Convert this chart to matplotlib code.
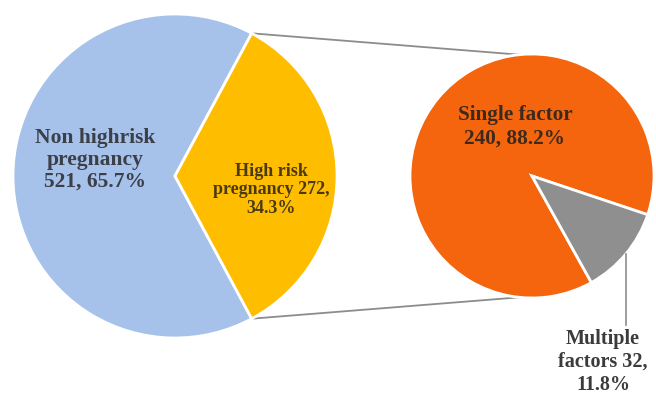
import numpy as np
import matplotlib.pyplot as plt

main_labels = ['Non highrisk\npregnancy\n521, 65.7%', 'High risk\npregnancy 272,\n34.3%']
main_values = [521, 272]
sub_labels = ['Single factor\n240, 88.2%', 'Multiple\nfactors 32,\n11.8%']
sub_values = [240, 32]

main_colors = ['#a6c2ea', '#ffbd00']
sub_colors = ['#f4650e', '#8f8f8f']

plt.rcParams['font.family'] = ['Liberation Serif', 'DejaVu Serif']

fig = plt.figure(figsize=(6.56, 3.97), dpi=100)
ax = fig.add_axes([0, 0, 1, 1])

c1, r1 = (175, 221), 162
c2, r2 = (532, 221), 122

half = main_values[1] / sum(main_values) * 180
ax.pie(main_values, colors=main_colors, center=c1, radius=r1, startangle=half,
       wedgeprops=dict(edgecolor='white', linewidth=2))

gray_frac = sub_values[1] / sum(sub_values) * 360
start2 = -18.5
ax.pie(sub_values, colors=sub_colors, center=c2, radius=r2, startangle=start2,
       wedgeprops=dict(edgecolor='white', linewidth=2))

# connector lines between the two pies
for sgn in (1, -1):
    a = np.deg2rad(sgn * half)
    x0, y0 = c1[0] + r1 * np.cos(a), c1[1] + r1 * np.sin(a)
    b = np.deg2rad(sgn * 96)
    x1, y1 = c2[0] + r2 * np.cos(b), c2[1] + r2 * np.sin(b)
    ax.plot([x0, x1], [y0, y1], color='#8c8c8c', lw=1.3, zorder=0)

# leader for multiple factors
mid = np.deg2rad(start2 - gray_frac / 2)
lx, ly = c2[0] + r2 * np.cos(mid), c2[1] + r2 * np.sin(mid)
ax.plot([lx, lx], [ly, 72], color='#8c8c8c', lw=1.2)

ax.text(95, 397 - 160, main_labels[0], ha='center', va='center', fontsize=15.5,
        fontweight='bold', color='#3b3f48', linespacing=1.13)
ax.text(271, 397 - 190, main_labels[1], ha='center', va='center', fontsize=13,
        fontweight='bold', color='#4a3a12', linespacing=1.15)
ax.text(515, 397 - 127, sub_labels[0], ha='center', va='center', fontsize=15.3,
        fontweight='bold', color='#3e2a1c', linespacing=1.25)
ax.text(603, 397 - 362, sub_labels[1], ha='center', va='center', fontsize=14.5,
        fontweight='bold', color='#3b3b3b', linespacing=1.2)

ax.set_xlim(0, 656)
ax.set_ylim(0, 397)
ax.set_aspect('equal')
ax.axis('off')

fig.savefig('out.png', dpi=100)
